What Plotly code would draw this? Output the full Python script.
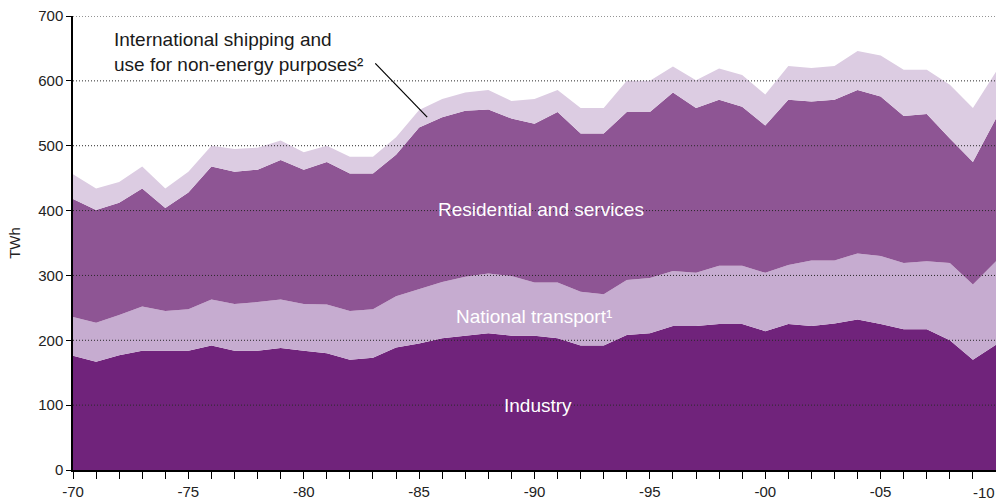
import plotly.graph_objects as go

# Energy use by sector, TWh, 1970-2010
years = list(range(1970, 2011))

industry = [176, 167, 177, 184, 184, 184, 192, 184, 184, 188,
            184, 180, 170, 173, 189, 195, 203, 207, 211, 207,
            207, 203, 192, 192, 208, 211, 222, 222, 225, 225,
            214, 225, 222, 226, 232, 225, 217, 217, 200, 170, 193]

transport = [60, 60, 62, 68, 61, 64, 71, 72, 75, 75,
             72, 75, 75, 75, 79, 84, 87, 91, 92, 92,
             82, 86, 83, 79, 85, 85, 85, 82, 90, 90,
             90, 91, 101, 97, 102, 105, 102, 105, 119, 116, 129]

residential = [182, 174, 173, 182, 159, 180, 205, 204, 204, 215,
               207, 220, 212, 209, 218, 249, 254, 256, 253, 243,
               245, 263, 244, 248, 259, 256, 275, 254, 256, 245,
               227, 255, 245, 248, 252, 246, 227, 227, 192, 189, 220]

international = [38, 33, 32, 34, 30, 32, 32, 35, 34, 30,
                 27, 25, 26, 26, 27, 27, 28, 28, 30, 27,
                 38, 34, 39, 39, 48, 48, 40, 43, 48, 49,
                 48, 52, 52, 52, 60, 63, 71, 68, 83, 83, 72]

tick_years = [1970, 1975, 1980, 1985, 1990, 1995, 2000, 2005]
tick_text = ["-70", "-75", "-80", "-85", "-90", "-95", "-00", "-05"]
last_year, last_label = 2010, "-10"

FONT = "Liberation Sans, Arial, Helvetica, sans-serif"

series = [
    ("Industry", industry, "#70237b"),
    ("National transport", transport, "#c6acd0"),
    ("Residential and services", residential, "#8e5594"),
    ("International shipping", international, "#dccce2"),
]

fig = go.Figure()
for name, vals, col in series:
    fig.add_trace(go.Scatter(
        x=years, y=vals, name=name,
        mode="lines", stackgroup="one",
        line=dict(width=0, color=col),
        fillcolor=col,
    ))

# dotted grid drawn over the areas
for v in range(100, 800, 100):
    fig.add_shape(type="line", xref="paper", x0=0, x1=1, yref="y", y0=v, y1=v,
                  line=dict(color="#2a2a2a", width=1, dash="1px,2px"), layer="above")

# in-chart labels
fig.add_annotation(x=1990.27, y=401, text="Residential and services", showarrow=False,
                   font=dict(color="white", size=19, family=FONT))
fig.add_annotation(x=1989.96, y=237, text="National transport¹", showarrow=False,
                   font=dict(color="white", size=19, family=FONT))
fig.add_annotation(x=1990.17, y=100, text="Industry", showarrow=False,
                   font=dict(color="white", size=19, family=FONT))
fig.add_annotation(x=1971.7, y=644, xanchor="left", yanchor="middle", align="left",
                   text="International shipping and<br>use for non-energy purposes²",
                   showarrow=False, font=dict(color="#1a1a1a", size=19, family=FONT))
fig.add_shape(type="line", x0=1983.1, y0=627, x1=1985.35, y1=544,
              line=dict(color="black", width=1.2), layer="above")

# last year label sits at the right edge, nudged in so it stays readable
fig.add_annotation(x=last_year, y=0, xref="x", yref="paper", text=last_label,
                   showarrow=False, xanchor="center", yanchor="middle",
                   xshift=-12, yshift=-22, font=dict(size=15, color="#222222", family=FONT))

fig.update_layout(
    width=996, height=500,
    margin=dict(l=73, r=0, t=16, b=30),
    paper_bgcolor="white", plot_bgcolor="white",
    showlegend=False,
    font=dict(family=FONT, size=15, color="#222222"),
    xaxis=dict(
        range=[1970, 2010],
        tickvals=tick_years, ticktext=tick_text,
        ticks="outside", ticklen=7, tickcolor="black", tickwidth=1,
        minor=dict(dtick=1, tick0=1970, ticks="outside", ticklen=7,
                   tickcolor="black", tickwidth=1, showgrid=False),
        showline=True, linecolor="black", linewidth=1.5,
        showgrid=False, zeroline=False, automargin=False,
        layer="above traces",
    ),
    yaxis=dict(
        range=[0, 700], dtick=100,
        ticks="outside", ticklen=5, tickcolor="black",
        showline=True, linecolor="black", linewidth=1.5,
        showgrid=False, zeroline=False,
        title=dict(text="TWh", standoff=14, font=dict(size=15)),
        layer="above traces",
    ),
)

# page body has a default margin; drop it so the figure fills the window
fig.write_html("out.html", config={"displayModeBar": False},
               post_script="document.body.style.margin='0';document.body.style.overflow='hidden';")
